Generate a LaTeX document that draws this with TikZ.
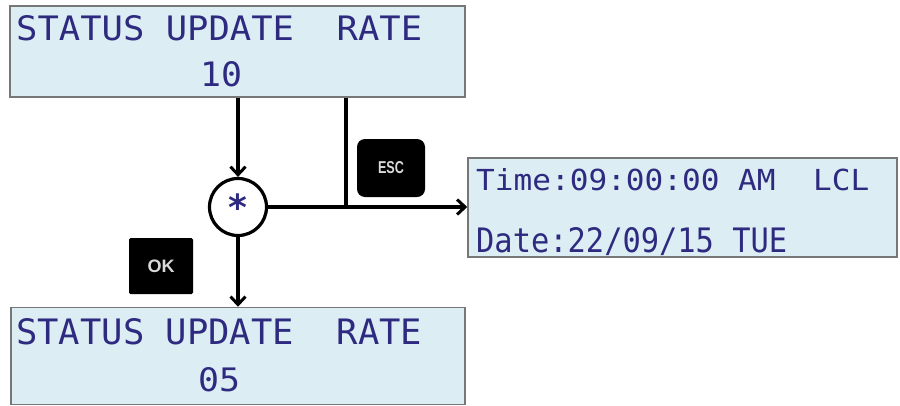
\documentclass[tikz,border=0pt]{standalone}
\usepackage{fontspec}
\usepackage{graphicx}
\setmainfont{Liberation Sans}
\newfontfamily\lcdfont{DejaVu Sans Mono}
\newfontfamily\starfont{DejaVu Sans}
\usetikzlibrary{arrows.meta}
\definecolor{lcdfill}{HTML}{DCEEF4}
\definecolor{lcdtext}{HTML}{2E2A80}
\definecolor{lcdedge}{HTML}{777777}
\newcommand{\lcdtxt}[3]{\resizebox{#1pt}{#2pt}{\lcdfont #3}}
\tikzset{
  lcdbox/.style={draw=lcdedge, line width=1.5pt, fill=lcdfill, inner sep=0pt, rectangle},
  lcdlabel/.style={anchor=base west, inner sep=0pt, text=lcdtext},
  flow/.style={line width=3.2pt, draw=black},
  arr/.style={flow, -{Straight Barb[length=8pt, width=15pt, line width=3pt]}},
  keybtn/.style={fill=black, draw=none, inner sep=0pt, text=black!15, font=\bfseries},
  junction/.style={circle, draw=black, line width=3.2pt, fill=white, minimum size=57pt, inner sep=0pt}
}
\begin{document}
\begin{tikzpicture}[x=1pt, y=-1pt]
\useasboundingbox (0,0) rectangle (900,405);

% LCD boxes
\node[lcdbox, minimum width=455pt, minimum height=91pt] (top) at (237.5,51.5) {};
\node[lcdbox, minimum width=454pt, minimum height=97pt] (bot) at (238,356) {};
\node[lcdbox, minimum width=429pt, minimum height=99pt] (rbox) at (682.5,207.5) {};

% LCD texts
\node[lcdlabel] (t1) at (16,40) {\lcdtxt{406}{25}{STATUS~UPDATE~~RATE}};
\node[lcdlabel] (t2) at (200,86) {\lcdtxt{42}{25}{10}};
\node[lcdlabel] (b1) at (16,344) {\lcdtxt{406}{26}{STATUS~UPDATE~~RATE}};
\node[lcdlabel] (b2) at (198,391) {\lcdtxt{42}{24}{05}};
\node[lcdlabel] (r1) at (476,190) {\lcdtxt{393}{22}{Time:09:00:00~AM~~LCL}};
\node[lcdlabel] (r2) at (476,252) {\lcdtxt{311}{25}{Date:22/09/15~TUE}};

% junction with asterisk
\node[junction] (star) at (238,207) {};
\node[text=lcdtext, inner sep=0pt] (ast) at (238,207) {\starfont\bfseries\fontsize{36}{36}\selectfont\raisebox{-0.17em}{*}};

% key buttons
\node[keybtn, rounded corners=8pt, minimum width=68pt, minimum height=58pt] (esc) at (391,168) {\resizebox{26pt}{12pt}{ESC}};
\node[keybtn, rounded corners=1.5pt, minimum width=64pt, minimum height=56pt] (ok) at (161,266) {\fontsize{18}{18}\selectfont OK};

% connectors
\coordinate (j) at (346,207);
\draw[arr] (star.north |- top.south) -- (star.north);
\draw[flow] (j |- top.south) -- (j);
\draw[arr] (star.east) -- (star.east -| rbox.west);
\draw[arr] (star.south) -- (star.south |- bot.north);
\end{tikzpicture}
\end{document}
